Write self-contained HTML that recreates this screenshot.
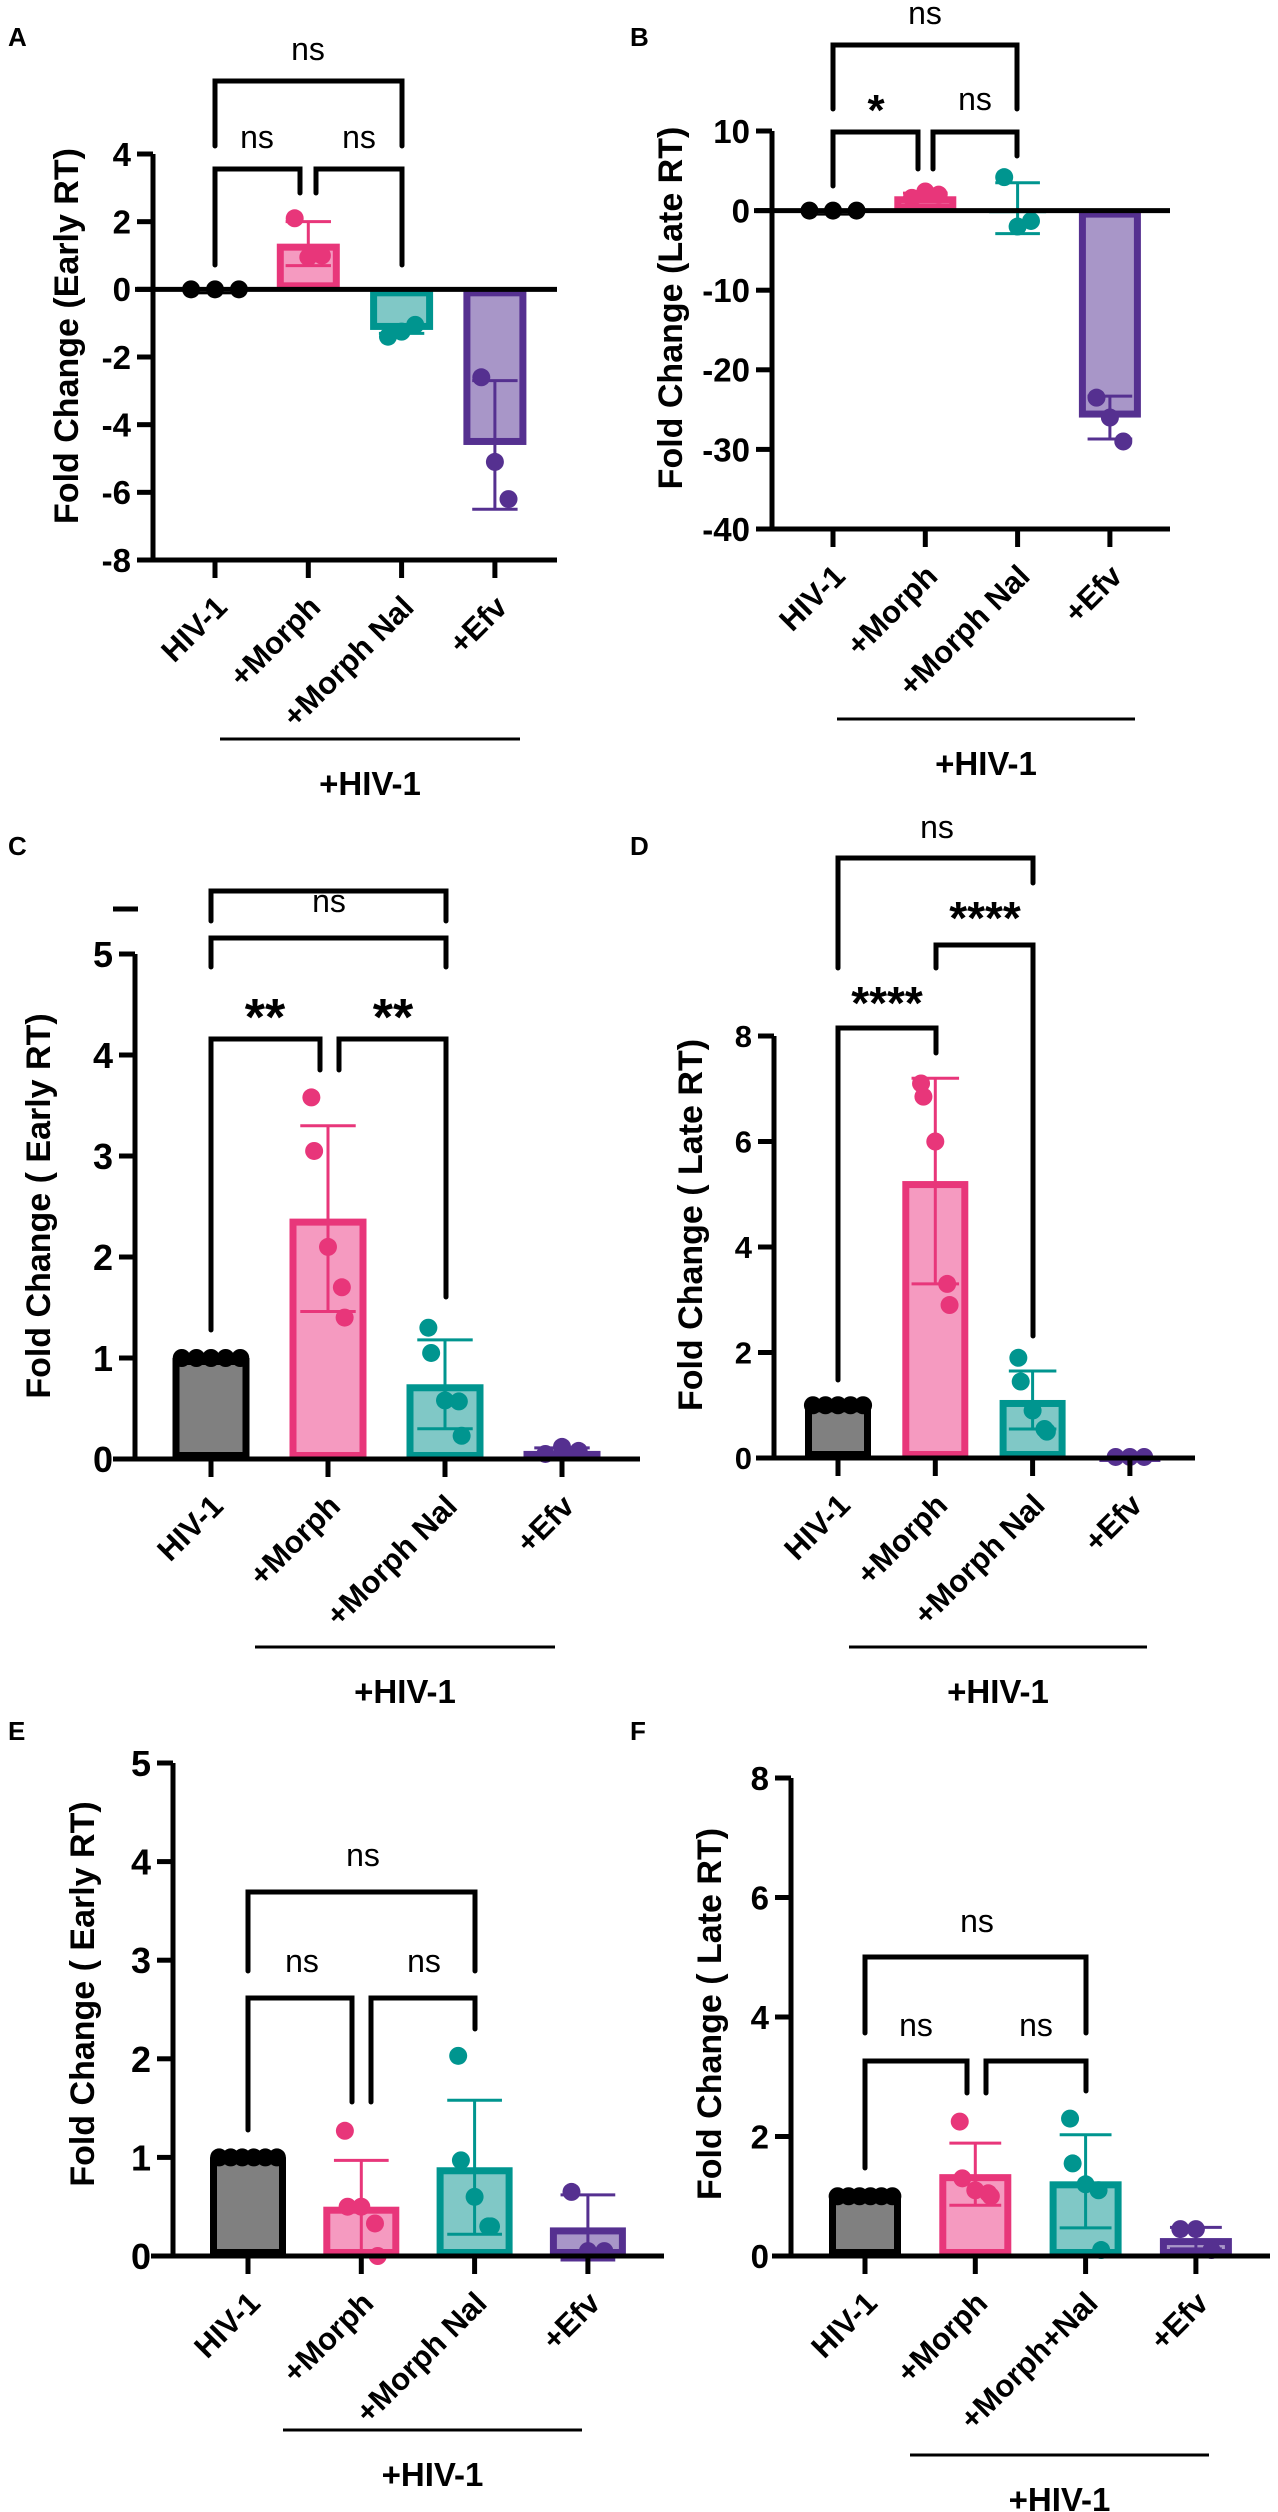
<!DOCTYPE html>
<html><head><meta charset="utf-8"><style>
html,body{margin:0;padding:0;background:#fff;}
svg{display:block;font-family:"Liberation Sans",Arial,sans-serif;}
</style></head><body>
<svg id="fig" width="1278" height="2512" viewBox="0 0 1278 2512" xmlns="http://www.w3.org/2000/svg"></svg>
<script>
// ---------- data ----------
const catsA = ["HIV-1", "+Morph", "+Morph Nal", "+Efv"];
const catsF = ["HIV-1", "+Morph", "+Morph+Nal", "+Efv"];

const A_means = [0, 1.35, -1.2, -4.6];
const A_sd = [0, 0.65, 0.1, 1.9];
const A_pts = [[0, 0, 0], [2.1, 0.95, 1.0], [-1.4, -1.25, -1.05], [-2.6, -5.1, -6.2]];
const A_ticks = [4, 2, 0, -2, -4, -6, -8];

const B_means = [0, 1.8, 0.3, -26];
const B_sd = [0, 0.4, 3.2, 2.7];
const B_pts = [[0, 0, 0], [1.6, 2.4, 2.0], [4.2, -2.0, -1.3], [-23.5, -26, -29]];
const B_ticks = [10, 0, -10, -20, -30, -40];

const C_means = [1, 2.38, 0.74, 0.08];
const C_sd = [0, 0.92, 0.44, 0.03];
const C_pts = [[1, 1, 1, 1, 1], [3.58, 3.05, 2.1, 1.7, 1.4], [1.3, 1.05, 0.58, 0.57, 0.23], [0.05, 0.12, 0.08]];
const C_ticks = [5, 4, 3, 2, 1, 0];

const D_means = [1, 5.25, 1.1, 0.02];
const D_sd = [0, 1.95, 0.55, 0];
const D_pts = [[1, 1, 1, 1, 1], [7.1, 6.85, 6.0, 3.3, 2.9], [1.9, 1.45, 0.9, 0.55, 0.5], [0.02, 0.02, 0.02]];
const D_ticks = [8, 6, 4, 2, 0];

const E_means = [1, 0.5, 0.9, 0.29];
const E_sd = [0, 0.47, 0.68, 0.33];
const E_pts = [[1, 1, 1, 1, 1, 1], [1.27, 0.5, 0.5, 0.33, 0.0], [2.03, 0.97, 0.6, 0.3, 0.3], [0.65, 0.05, 0.05]];
const E_ticks = [5, 4, 3, 2, 1, 0];

const F_means = [1, 1.37, 1.25, 0.3];
const F_sd = [0, 0.52, 0.78, 0.18];
const F_pts = [[1, 1, 1, 1, 1, 1], [2.25, 1.3, 1.1, 1.05, 1.0], [2.3, 1.55, 1.2, 1.1, 0.1], [0.45, 0.45, 0.1]];
const F_ticks = [8, 6, 4, 2, 0];

// ---------- style ----------
const OUT = ["#000000", "#e8367a", "#00958f", "#553090"];
const FILL = ["#808080", "#f59ac0", "#80c8c6", "#a896c8"];
const NS = "http://www.w3.org/2000/svg";
const svg = document.getElementById("fig");

function el(tag, attrs, parent, txt) {
  const e = document.createElementNS(NS, tag);
  for (const k in attrs) e.setAttribute(k, attrs[k]);
  if (txt !== undefined) e.textContent = txt;
  (parent || svg).appendChild(e);
  return e;
}

function panel(cfg, cats, means, sds, pts, ticks) {
  const g = el("g", {});
  
  
  const yMax = ticks[0], yMin = ticks[ticks.length - 1];
  const Y = v => cfg.yTop + (yMax - v) / (yMax - yMin) * (cfg.yBot - cfg.yTop);
  const X = i => cfg.x0 + i * cfg.dx;
  const y0 = Y(0);

  const lab = el("text", {x: cfg.labX, y: cfg.labY, "font-size": 26, "font-weight": "bold"}, g, cfg.id);
  
  

  means.forEach((m, i) => {
    const sw = 7, w = cfg.bw;
    const top = Math.min(Y(m), y0), h = Math.abs(Y(m) - y0);
    const r = el("rect", {x: X(i) - w / 2 + sw / 2, y: top + sw / 2, width: w - sw, height: Math.max(h - sw, 0.5),
      fill: FILL[i], stroke: OUT[i], "stroke-width": h > sw ? sw : 2}, g);
    
    
  });
  means.forEach((m, i) => {
    if (!sds[i]) return;
    const cw = cfg.bw * 0.36;
    const e = el("path", {d: `M${X(i)},${Y(m + sds[i])}V${Y(m - sds[i])}M${X(i) - cw},${Y(m + sds[i])}h${2 * cw}M${X(i) - cw},${Y(m - sds[i])}h${2 * cw}`,
      stroke: OUT[i], "stroke-width": 3, fill: "none"}, g);
    
    
  });
  pts.forEach((arr, i) => {
    const n = arr.length;
    arr.forEach((v, j) => {
      const off = n > 1 ? (j - (n - 1) / 2) / ((n - 1) / 2) : 0;
      const spread = (i === 0) ? cfg.bw * 0.38 : cfg.bw * 0.36 * ((j % 2) ? 1 : 0.6);
      const c = el("circle", {cx: X(i) + off * spread, cy: Y(v), r: 9, fill: OUT[i]}, g);
      
      
    });
  });
  const ax = el("path", {d: `M${cfg.axX},${Y(yMax)}V${cfg.yBot}M${cfg.xAxL},${y0}H${cfg.xAxR}` + (yMin < 0 ? `M${cfg.axX},${cfg.yBot}H${cfg.xAxR}` : ""),
    stroke: "#000", "stroke-width": 5, fill: "none"}, g);
  
  
  ticks.forEach(t => {
    const tk = el("path", {d: `M${cfg.axX - 16},${Y(t)}H${cfg.axX}`, stroke: "#000", "stroke-width": 5}, g);
    
    
    const tl = el("text", {x: cfg.axX - 22, y: Y(t) + cfg.tickFs * 0.36, "text-anchor": "end", "font-size": cfg.tickFs, "font-weight": "bold"}, g, String(t));
    
    
  });
  const xBase = cfg.yBot;
  cats.forEach((c, i) => {
    const tk = el("path", {d: `M${X(i)},${xBase}V${xBase + 18}`, stroke: "#000", "stroke-width": 5}, g);
    
    
    const px = X(i) + 14, py = xBase + 18 + 31;
    const tl = el("text", {x: px, y: py, "text-anchor": "end", "font-size": 31, "font-weight": "bold", transform: `rotate(-45 ${px} ${py})`}, g, c);
    
    
  });
  const tx = cfg.titleX, ty = cfg.titleY;
  const yt = el("text", {x: tx, y: ty, "text-anchor": "middle", "font-size": 34, "font-weight": "bold", transform: `rotate(-90 ${tx} ${ty})`, "xml:space": "preserve"}, g, cfg.title);
  
  
  const ul = el("path", {d: `M${cfg.ulX1},${cfg.ulY}H${cfg.ulX2}`, stroke: "#000", "stroke-width": 3}, g);
  
  
  const gl = el("text", {x: (cfg.ulX1 + cfg.ulX2) / 2, y: cfg.ulY + 56, "text-anchor": "middle", "font-size": 33, "font-weight": "bold"}, g, "+HIV-1");
  
  
  cfg.brackets.forEach(b => {
    const big = b[5] !== "ns";
    const t = el("text", {x: b[6], y: b[7], "text-anchor": "middle", "font-size": big ? b[8] : 32, "font-weight": big ? "bold" : "normal"}, g, b[5]);
    
    
    const p = el("path", {d: `M${b[0]},${b[3]}V${b[2]}H${b[1]}V${b[4]}`, stroke: "#000", "stroke-width": 5, fill: "none", "stroke-linecap": "round"}, g);
    
    
  });
  if (cfg.extra) cfg.extra(g);
}

panel({id: "A", labX: 8, labY: 46, axX: 153, yTop: 154, yBot: 560, x0: 215, dx: 93.3, bw: 63, xAxL: 135, xAxR: 557,
  tickFs: 33, titleX: 78, titleY: 336, title: "Fold Change  (Early RT)", ulX1: 220, ulX2: 520, ulY: 739,
  brackets: [[215, 402, 81, 146, 146, "ns", 308, 60], [215, 300, 169, 265, 193, "ns", 257, 148], [316, 402, 169, 193, 265, "ns", 359, 148]]},
  catsA, A_means, A_sd, A_pts, A_ticks);

panel({id: "B", labX: 630, labY: 46, axX: 772, yTop: 131, yBot: 529, x0: 833, dx: 92.3, bw: 62, xAxL: 754, xAxR: 1170,
  tickFs: 33, titleX: 682, titleY: 308, title: "Fold Change  (Late RT)", ulX1: 837, ulX2: 1135, ulY: 719,
  brackets: [[833, 1017, 45, 109, 109, "ns", 925, 24], [833, 918, 132, 186, 169, "*", 876, 125, 44], [933, 1017, 132, 169, 156, "ns", 975, 110]]},
  catsA, B_means, B_sd, B_pts, B_ticks);

panel({id: "C", labX: 8, labY: 855, axX: 135, yTop: 954, yBot: 1459, x0: 211, dx: 117, bw: 77, xAxL: 113, xAxR: 640,
  tickFs: 36, titleX: 50, titleY: 1206, title: "Fold Change ( Early RT)", ulX1: 255, ulX2: 555, ulY: 1647,
  brackets: [[211, 446, 891, 921, 921, "ns", 329, 912], [211, 446, 938, 967, 967, "", 0, 0, 1], [211, 320, 1039, 1330, 1070, "**", 265, 1035, 52], [339, 446, 1039, 1070, 1297, "**", 393, 1035, 52]],
  extra: g => { const d = el("path", {d: "M113,909H138", stroke: "#000", "stroke-width": 5}, g);   }},
  catsA, C_means, C_sd, C_pts, C_ticks);

panel({id: "D", labX: 630, labY: 855, axX: 774, yTop: 1036, yBot: 1458, x0: 838, dx: 97.3, bw: 66, xAxL: 756, xAxR: 1195,
  tickFs: 31, titleX: 702, titleY: 1225, title: "Fold Change ( Late RT)", ulX1: 849, ulX2: 1147, ulY: 1647,
  brackets: [[838, 1033, 858, 968, 883, "ns", 937, 838], [936, 1033, 945, 968, 1336, "****", 985, 934, 46], [838, 936, 1028, 1380, 1053, "****", 887, 1019, 46]]},
  catsA, D_means, D_sd, D_pts, D_ticks);

panel({id: "E", labX: 8, labY: 1740, axX: 173, yTop: 1763, yBot: 2256, x0: 248, dx: 113.3, bw: 76, xAxL: 151, xAxR: 664,
  tickFs: 36, titleX: 94, titleY: 1994, title: "Fold Change ( Early RT)", ulX1: 283, ulX2: 582, ulY: 2430,
  brackets: [[248, 475, 1892, 1971, 1971, "ns", 363, 1866], [248, 352, 1998, 2130, 2102, "ns", 302, 1972], [371, 475, 1998, 2102, 2029, "ns", 424, 1972]]},
  catsA, E_means, E_sd, E_pts, E_ticks);

panel({id: "F", labX: 630, labY: 1740, axX: 791, yTop: 1778, yBot: 2256, x0: 865, dx: 110.3, bw: 72, xAxL: 772, xAxR: 1270,
  tickFs: 33, titleX: 721, titleY: 2014, title: "Fold Change ( Late RT)", ulX1: 910, ulX2: 1209, ulY: 2455,
  brackets: [[865, 1086, 1957, 2033, 2033, "ns", 977, 1932], [865, 967, 2061, 2168, 2093, "ns", 916, 2036], [986, 1086, 2061, 2093, 2091, "ns", 1036, 2036]]},
  catsF, F_means, F_sd, F_pts, F_ticks);
</script>
</body></html>
